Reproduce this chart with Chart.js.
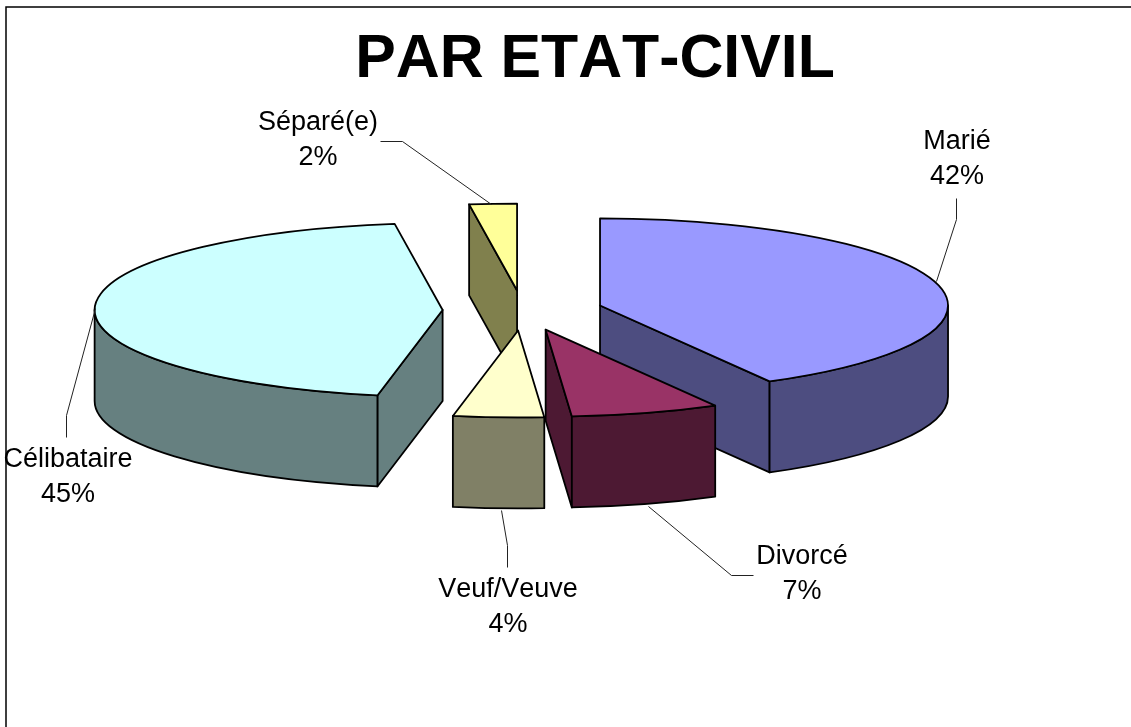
<!DOCTYPE html>
<html>
<head>
<meta charset="utf-8">
<title>Par etat-civil</title>
<script src="https://cdn.jsdelivr.net/npm/chart.js@4"></script>
<style>
html, body { margin: 0; padding: 0; background: #fff; }
canvas { display: block; }
</style>
</head>
<body>
<canvas id="myChart" width="1131" height="727"></canvas>
<script>
// data, in pie order (clockwise from 12 o'clock)
var categories = ["Marié", "Divorcé", "Veuf/Veuve", "Célibataire", "Séparé(e)"];
var percents = [41.9, 6.9, 4.2, 44.8, 2.2];

var topColors = ["#9999FF", "#993366", "#FFFFCC", "#CCFFFF", "#FFFF99"];
var wallColors = ["#4D4D80", "#4D1933", "#808066", "#668080", "#80804D"];

// 3d look of the pie
var pieCenter = { x: 522.6, y: 310.5 };
var pieRadius = 348;
var squash = 0.25;
var wallHeight = 91;
var explode = 80;

// where the labels and their leader lines sit
var labelCenters = [[957, 149], [802, 564], [508, 597], [68, 467], [318, 130]];
var labelLeaders = [
  [[956, 198], [956, 219], [936, 281]],
  [[753, 575], [731, 575], [648, 506]],
  [[507, 567], [507, 545], [501, 510]],
  [[66, 437], [66, 415], [95, 308]],
  [[380, 141], [402, 141], [491, 204]]
];
var labelFont = "27px 'Liberation Sans', Arial, sans-serif";
var labelLineHeight = 35;

function ellipsePath(ctx, x, y, a0, a1, reverse) {
  ctx.ellipse(x, y, pieRadius, pieRadius * squash, 0, a0, a1, reverse);
}

function paintPath(ctx, fill) {
  ctx.fillStyle = fill;
  ctx.fill();
  ctx.stroke();
}

function sideWall(ctx, x, y, angle, fill) {
  var ex = x + Math.cos(angle) * pieRadius;
  var ey = y + Math.sin(angle) * pieRadius * squash;
  ctx.beginPath();
  ctx.moveTo(x, y);
  ctx.lineTo(ex, ey);
  ctx.lineTo(ex, ey + wallHeight);
  ctx.lineTo(x, y + wallHeight);
  ctx.closePath();
  paintPath(ctx, fill);
}

var pie3d = {
  id: 'pie3d',
  beforeDraw: function(chart) {
    var ctx = chart.ctx;
    // the reference text has no kerning, title included
    ctx.fontKerning = "none";
    // the old chart frame only shows on the left and on top
    ctx.save();
    ctx.strokeStyle = "#000";
    ctx.lineWidth = 1.5;
    ctx.beginPath();
    ctx.moveTo(6, 727);
    ctx.lineTo(6, 7);
    ctx.lineTo(1131, 7);
    ctx.stroke();
    ctx.restore();
  },
  beforeDatasetDraw: function(chart, args) {
    var ctx = chart.ctx;
    var slices = args.meta.data.map(function(arc, i) {
      var mid = (arc.startAngle + arc.endAngle) / 2;
      return {
        arc: arc,
        index: i,
        x: pieCenter.x + Math.cos(mid) * explode,
        y: pieCenter.y + Math.sin(mid) * explode * squash
      };
    });
    // back slices first
    slices.sort(function(a, b) { return a.y - b.y; });

    ctx.save();
    ctx.strokeStyle = "#000";
    ctx.lineWidth = 1.8;
    ctx.lineJoin = "round";
    slices.forEach(function(s) {
      var arc = s.arc;
      var wall = wallColors[s.index];
      if (Math.cos(arc.startAngle) < 0) sideWall(ctx, s.x, s.y, arc.startAngle, wall);
      if (Math.cos(arc.endAngle) > 0) sideWall(ctx, s.x, s.y, arc.endAngle, wall);

      // outer wall, only the part facing us
      var a0 = Math.max(arc.startAngle, 0);
      var a1 = Math.min(arc.endAngle, Math.PI);
      if (a1 > a0) {
        ctx.beginPath();
        ellipsePath(ctx, s.x, s.y, a0, a1, false);
        ellipsePath(ctx, s.x, s.y + wallHeight, a1, a0, true);
        ctx.closePath();
        paintPath(ctx, wall);
      }

      // top face is the library's arc, flattened
      ctx.save();
      ctx.translate(s.x, s.y);
      ctx.scale(1, squash);
      ctx.translate(-arc.x, -arc.y);
      arc.draw(ctx);
      ctx.restore();

      ctx.beginPath();
      ctx.moveTo(s.x, s.y);
      ellipsePath(ctx, s.x, s.y, arc.startAngle, arc.endAngle, false);
      ctx.closePath();
      ctx.stroke();
    });
    ctx.restore();
    return false;
  },
  afterDraw: function(chart) {
    var ctx = chart.ctx;
    ctx.save();
    ctx.strokeStyle = "#222";
    ctx.lineWidth = 1;
    labelLeaders.forEach(function(pts) {
      ctx.beginPath();
      pts.forEach(function(p, i) {
        if (i == 0) ctx.moveTo(p[0] + 0.5, p[1] + 0.5);
        else ctx.lineTo(p[0] + 0.5, p[1] + 0.5);
      });
      ctx.stroke();
    });
    ctx.fillStyle = "#000";
    ctx.font = labelFont;
    ctx.textAlign = "center";
    ctx.textBaseline = "alphabetic";
    categories.forEach(function(name, i) {
      var pos = labelCenters[i];
      ctx.fillText(name, pos[0], pos[1]);
      ctx.fillText(Math.round(percents[i]) + "%", pos[0], pos[1] + labelLineHeight);
    });
    ctx.restore();
  }
};

var ctx = document.getElementById('myChart').getContext('2d');
var chart = new Chart(ctx, {
  type: 'pie',
  data: {
    labels: categories,
    datasets: [{
      data: percents,
      backgroundColor: topColors,
      borderWidth: 0
    }]
  },
  options: {
    responsive: false,
    animation: false,
    radius: pieRadius,
    layout: { padding: { left: 59 } }, // centres the title where it was
    plugins: {
      legend: { display: false },
      tooltip: { enabled: false },
      title: {
        display: true,
        text: "PAR ETAT-CIVIL",
        color: "#000",
        font: { family: "'Liberation Sans', Arial, sans-serif", size: 60.8, weight: 'bold', lineHeight: 1.2 },
        padding: { top: 24, bottom: 10 }
      }
    }
  },
  plugins: [pie3d]
});
</script>
</body>
</html>
